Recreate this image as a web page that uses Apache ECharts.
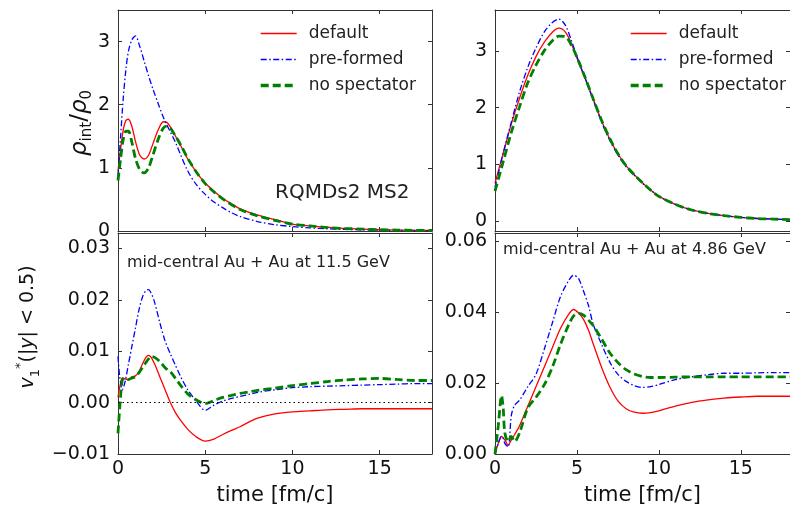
<!DOCTYPE html>
<html><head><meta charset="utf-8">
<script src="https://cdn.jsdelivr.net/npm/echarts@6/dist/echarts.min.js"></script>
<style>html,body{margin:0;padding:0;background:#fff}#c{width:790px;height:508px}</style>
</head><body><div id="c"></div>
<script>
// ---------- DATA ----------
const seriesNames = ['default', 'pre-formed', 'no spectator'];
const xTicks = [0, 5, 10, 15];
const yTicksTop = [0, 1, 2, 3];
const yTicksBL = [-0.01, 0, 0.01, 0.02, 0.03];
const yTicksBR = [0, 0.02, 0.04, 0.06];

// top-left: density, 11.5 GeV
const tTL = [0, 0.15, 0.3, 0.45, 0.6, 0.8, 1.0, 1.25, 1.5, 1.75, 2.0, 2.3, 2.6, 2.8, 3.0, 3.3, 3.6, 4.0, 4.5, 5.0, 5.5, 6.0, 6.5, 7.0, 8.0, 9.0, 10, 11, 12, 13, 14, 15, 16, 17, 18];
const rhoDefault115 = [0.95, 1.3, 1.6, 1.75, 1.77, 1.65, 1.42, 1.2, 1.14, 1.2, 1.38, 1.6, 1.73, 1.72, 1.65, 1.5, 1.35, 1.14, 0.93, 0.76, 0.63, 0.52, 0.43, 0.35, 0.25, 0.18, 0.11, 0.08, 0.06, 0.04, 0.03, 0.02, 0.015, 0.01, 0.01];
const rhoPre115 = [0.87, 1.5, 2.1, 2.55, 2.85, 3.03, 3.09, 2.92, 2.69, 2.46, 2.25, 2.02, 1.8, 1.68, 1.57, 1.4, 1.2, 0.95, 0.73, 0.58, 0.46, 0.37, 0.29, 0.23, 0.15, 0.10, 0.07, 0.05, 0.035, 0.025, 0.018, 0.013, 0.01, 0.008, 0.006];
const rhoNoSpec115 = [0.8, 1.15, 1.45, 1.58, 1.58, 1.4, 1.15, 0.97, 0.92, 1.0, 1.2, 1.45, 1.63, 1.66, 1.63, 1.5, 1.36, 1.15, 0.93, 0.75, 0.62, 0.51, 0.42, 0.34, 0.24, 0.17, 0.11, 0.08, 0.055, 0.04, 0.03, 0.02, 0.015, 0.01, 0.01];

// top-right: density, 4.86 GeV
const tTR = [0, 0.5, 1.0, 1.5, 2.0, 2.5, 3.0, 3.5, 3.9, 4.3, 4.7, 5.1, 5.5, 6.0, 6.5, 7.0, 7.5, 8.0, 8.5, 9.0, 9.5, 10, 11, 12, 13, 14, 15, 16, 17, 18];
const rhoDefault486 = [0.67, 1.2, 1.72, 2.17, 2.57, 2.9, 3.15, 3.33, 3.40, 3.33, 3.1, 2.8, 2.52, 2.15, 1.77, 1.45, 1.19, 0.98, 0.82, 0.68, 0.55, 0.44, 0.30, 0.20, 0.14, 0.10, 0.07, 0.05, 0.04, 0.03];
const rhoPre486 = [0.6, 1.2, 1.75, 2.28, 2.71, 3.05, 3.33, 3.5, 3.56, 3.45, 3.15, 2.82, 2.52, 2.13, 1.75, 1.43, 1.17, 0.96, 0.81, 0.67, 0.55, 0.44, 0.30, 0.20, 0.14, 0.10, 0.07, 0.05, 0.04, 0.03];
const rhoNoSpec486 = [0.53, 1.05, 1.57, 2.02, 2.44, 2.75, 3.0, 3.18, 3.26, 3.25, 3.08, 2.82, 2.53, 2.15, 1.78, 1.46, 1.19, 0.98, 0.82, 0.68, 0.55, 0.44, 0.30, 0.20, 0.14, 0.10, 0.07, 0.05, 0.04, 0.03];

// bottom-left: v1*, 11.5 GeV
const tBL = [0, 0.1, 0.25, 0.4, 0.6, 0.8, 1.0, 1.2, 1.4, 1.6, 1.75, 1.9, 2.1, 2.4, 2.7, 3.0, 3.3, 3.6, 4.0, 4.5, 5.0, 5.5, 6.0, 6.5, 7.0, 7.5, 8.0, 9.0, 10, 11, 12, 13, 14, 15, 16, 17, 18];
const v1Default115 = [0.001, 0.003, 0.0048, 0.0046, 0.0045, 0.005, 0.0052, 0.006, 0.0075, 0.0088, 0.0092, 0.0088, 0.0075, 0.005, 0.0025, 0.0, -0.002, -0.0035, -0.0052, -0.0067, -0.0075, -0.0071, -0.0062, -0.0054, -0.0047, -0.0038, -0.003, -0.0022, -0.0018, -0.0016, -0.0014, -0.0013, -0.0012, -0.0012, -0.0012, -0.0012, -0.0012];
const v1Pre115 = [0.009, 0.005, 0.0025, 0.004, 0.0075, 0.011, 0.0145, 0.018, 0.0205, 0.0218, 0.022, 0.0213, 0.0195, 0.0155, 0.012, 0.0095, 0.0072, 0.005, 0.0025, 0.0002, -0.0015, -0.0005, 0.0003, 0.0008, 0.0012, 0.0016, 0.002, 0.0025, 0.0029, 0.0031, 0.0032, 0.0033, 0.0034, 0.0035, 0.0036, 0.0037, 0.0037];
const v1NoSpec115 = [-0.006, -0.001, 0.0045, 0.0048, 0.0045, 0.0048, 0.005, 0.0058, 0.0068, 0.0078, 0.0085, 0.009, 0.0088, 0.008, 0.0068, 0.006, 0.0047, 0.0033, 0.0017, 0.0005, -0.0002, 0.0004, 0.001, 0.0014, 0.0018, 0.0021, 0.0024, 0.0028, 0.0033, 0.0037, 0.0041, 0.0044, 0.0046, 0.0047, 0.0045, 0.0043, 0.0043];

// bottom-right: v1*, 4.86 GeV
const tBR = [0, 0.2, 0.4, 0.5, 0.6, 0.8, 1.0, 1.2, 1.5, 2.0, 2.5, 3.0, 3.5, 4.0, 4.5, 4.8, 5.1, 5.4, 5.7, 6.0, 6.5, 7.0, 7.5, 8.0, 8.5, 9.0, 9.5, 10, 11, 12, 13, 14, 15, 16, 17, 18];
const v1Default486 = [0.0, 0.003, 0.005, 0.0045, 0.004, 0.0025, 0.004, 0.0055, 0.008, 0.0135, 0.019, 0.0245, 0.030, 0.0355, 0.0395, 0.0408, 0.0398, 0.038, 0.035, 0.031, 0.0245, 0.019, 0.015, 0.0128, 0.0118, 0.0115, 0.0117, 0.0122, 0.0135, 0.0146, 0.0153, 0.0158, 0.0161, 0.0163, 0.0163, 0.0163];
const v1Pre486 = [0.0, 0.003, 0.005, 0.0045, 0.003, 0.002, 0.011, 0.0138, 0.0152, 0.019, 0.0225, 0.0295, 0.037, 0.0445, 0.049, 0.0505, 0.0495, 0.046, 0.042, 0.0365, 0.031, 0.026, 0.0225, 0.0205, 0.0193, 0.0188, 0.019, 0.0196, 0.021, 0.0218, 0.0224, 0.0228, 0.0228, 0.0229, 0.023, 0.023];
const v1NoSpec486 = [0.0, 0.008, 0.0165, 0.013, 0.006, 0.0035, 0.005, 0.0035, 0.006, 0.013, 0.016, 0.0195, 0.0245, 0.031, 0.0365, 0.039, 0.0397, 0.0392, 0.0378, 0.0362, 0.0325, 0.0286, 0.0258, 0.0238, 0.0226, 0.0219, 0.0216, 0.0216, 0.0217, 0.0218, 0.0218, 0.0218, 0.0218, 0.0218, 0.0218, 0.0218];

// ---------- CHART ----------
const FONT = 'DejaVu Sans';
const styles = [
  {color: '#ff0000', width: 1.3, type: 'solid'},
  {color: '#0000ff', width: 1.3, type: [6, 2.5, 1.5, 2.5]},
  {color: '#008000', width: 2.8, type: [8, 4]}
];
const pairs = (t, v) => t.map((x, i) => [x, v[i]]);
const panels = [
  {t: tTL, ys: [rhoDefault115, rhoPre115, rhoNoSpec115], min: 0, max: 3.5, ticks: yTicksTop, fmt: v => String(v), xlab: false},
  {t: tTR, ys: [rhoDefault486, rhoPre486, rhoNoSpec486], min: -0.17, max: 3.72, ticks: yTicksTop, fmt: v => String(v), xlab: false},
  {t: tBL, ys: [v1Default115, v1Pre115, v1NoSpec115], min: -0.01, max: 0.033, ticks: yTicksBL, fmt: v => (v < 0 ? '\u2212' : '') + Math.abs(v).toFixed(2), xlab: true, zero: true},
  {t: tBR, ys: [v1Default486, v1Pre486, v1NoSpec486], min: 0, max: 0.0624, ticks: yTicksBR, fmt: v => (v < 0 ? '\u2212' : '') + Math.abs(v).toFixed(2), xlab: true}
];
const grids = [
  {left: 118, top: 10, width: 314, height: 221},
  {left: 495, top: 10, width: 312, height: 221},
  {left: 118, top: 233, width: 314, height: 221},
  {left: 495, top: 233, width: 312, height: 221}
];
const lineCol = '#333';
const xAxes = [], yAxes = [], series = [];
panels.forEach((p, i) => {
  ['bottom', 'top'].forEach((pos, k) => {
    xAxes.push({
      type: 'value', gridIndex: i, position: pos, min: 0, max: 18,
      axisLine: {show: true, onZero: false, lineStyle: {color: lineCol, width: 1}},
      axisTick: {show: true, inside: true, length: 4, customValues: xTicks, lineStyle: {color: lineCol}},
      axisLabel: {show: p.xlab && k === 0, customValues: xTicks, margin: 6, fontSize: 19, color: '#111', fontFamily: FONT},
      splitLine: {show: false},
      name: (p.xlab && k === 0) ? 'time [fm/c]' : '', nameLocation: 'middle', nameGap: 31,
      nameTextStyle: {fontSize: 21, color: '#111', fontFamily: FONT}
    });
  });
  ['left', 'right'].forEach((pos, k) => {
    yAxes.push({
      type: 'value', gridIndex: i, position: pos, min: p.min, max: p.max,
      axisLine: {show: true, onZero: false, lineStyle: {color: lineCol, width: 1}},
      axisTick: {show: true, inside: true, length: 4, customValues: p.ticks, lineStyle: {color: lineCol}},
      axisLabel: {show: k === 0, customValues: p.ticks, formatter: p.fmt, margin: 8, fontSize: 19, color: '#111', fontFamily: FONT},
      splitLine: {show: false}
    });
  });
  p.ys.forEach((ys, j) => {
    const s = {
      type: 'line', name: seriesNames[j], xAxisIndex: 2 * i, yAxisIndex: 2 * i,
      data: pairs(p.t, ys), symbol: 'none', showSymbol: false, smooth: 0.3, clip: true,
      lineStyle: {color: styles[j].color, width: styles[j].width, type: styles[j].type},
      itemStyle: {color: styles[j].color}, z: 2 + j, animation: false
    };
    if (p.zero && j === 0) {
      s.markLine = {silent: true, symbol: 'none', label: {show: false},
        lineStyle: {color: '#000', type: [1.5, 3], width: 1.2}, data: [{yAxis: 0}]};
    }
    series.push(s);
  });
});
const legendData = seriesNames.map((n, j) => ({
  name: n,
  itemStyle: {color: 'transparent', borderColor: 'transparent', borderWidth: 0, opacity: 0},
  lineStyle: {color: styles[j].color, width: styles[j].width + (j === 2 ? 0.6 : 0.3), type: styles[j].type}
}));
const legendCommon = {
  orient: 'vertical', top: 20, itemWidth: 36, itemHeight: 14, itemGap: 9,
  data: legendData, selectedMode: false,
  textStyle: {fontSize: 17, color: '#222', fontFamily: FONT, padding: [0, 0, 0, 7]}
};
const titleText = (x, y, txt, size) => ({type: 'text', x: x, y: y, style: {text: txt, fontSize: size, fill: '#222', fontFamily: FONT, verticalAlign: 'middle'}});
const option = {
  animation: false,
  backgroundColor: '#fff',
  grid: grids,
  xAxis: xAxes,
  yAxis: yAxes,
  series: series,
  legend: [Object.assign({left: 254}, legendCommon), Object.assign({left: 624}, legendCommon)],
  graphic: [
    titleText(275, 193, 'RQMDs2 MS2', 20),
    titleText(127, 263, 'mid-central Au + Au at 11.5 GeV', 16),
    titleText(503, 250, 'mid-central Au + Au at 4.86 GeV', 16),
    {type: 'text', x: 80, y: 123, rotation: Math.PI / 2,
      style: {text: '{a|\u03c1}{b|int}{c|/}{a|\u03c1}{b|0}', align: 'center', verticalAlign: 'middle', fill: '#111',
        rich: {
          a: {fontSize: 23, fontStyle: 'italic', fontFamily: FONT, lineHeight: 30, verticalAlign: 'middle', fill: '#111'},
          c: {fontSize: 23, fontFamily: FONT, lineHeight: 30, verticalAlign: 'middle', fill: '#111'},
          b: {fontSize: 15, fontFamily: FONT, lineHeight: 30, verticalAlign: 'bottom', fill: '#111'}
        }}},
    {type: 'text', x: 28, y: 327, rotation: Math.PI / 2,
      style: {text: '{a|v}{b|1}{p|*}{c|(|}{a|y}{c|| < 0.5)}', align: 'center', verticalAlign: 'middle', fill: '#111',
        rich: {
          a: {fontSize: 19, fontStyle: 'italic', fontFamily: FONT, lineHeight: 28, verticalAlign: 'middle', fill: '#111'},
          c: {fontSize: 19, fontFamily: FONT, lineHeight: 28, verticalAlign: 'middle', fill: '#111'},
          b: {fontSize: 13, fontFamily: FONT, lineHeight: 28, verticalAlign: 'bottom', fill: '#111'},
          p: {fontSize: 13, fontFamily: FONT, lineHeight: 28, verticalAlign: 'top', fill: '#111'}
        }}}
  ]
};
const chart = echarts.init(document.getElementById('c'), null, {renderer: 'canvas'});
chart.setOption(option);
</script>
</body></html>
